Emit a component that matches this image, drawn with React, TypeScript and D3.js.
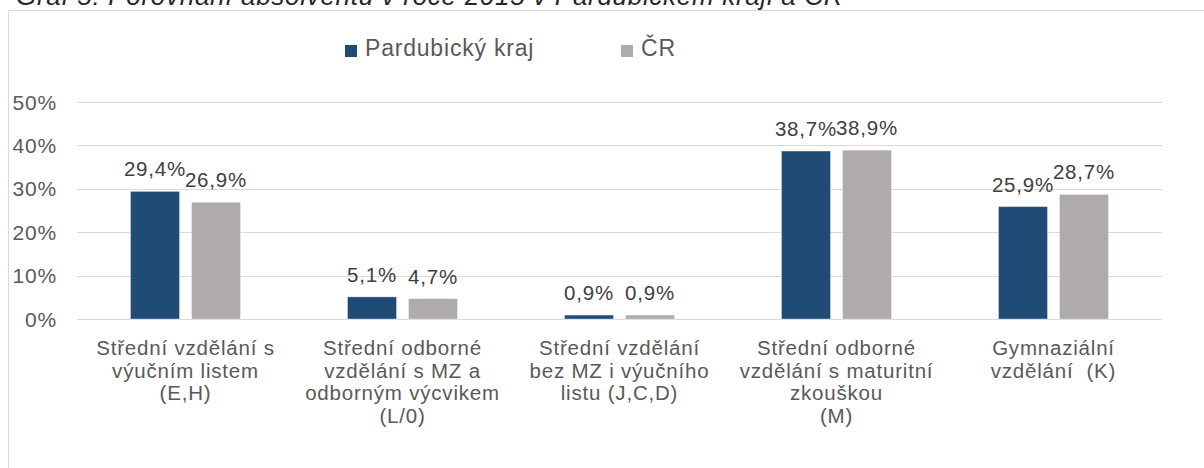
import React from "react";
import * as d3 from "d3";

const categories: string[][] = [
  ["Střední vzdělání s", "výučním listem", "(E,H)"],
  ["Střední odborné", "vzdělání s MZ a", "odborným výcvikem", "(L/0)"],
  ["Střední vzdělání", "bez MZ i výučního", "listu (J,C,D)"],
  ["Střední odborné", "vzdělání s maturitní", "zkouškou", "(M)"],
  ["Gymnaziální", "vzdělání  (K)"],
];
const seriesNames = ["Pardubický kraj", "ČR"];
const pardubice = [29.4, 5.1, 0.9, 38.7, 25.9];
const cr = [26.9, 4.7, 0.9, 38.9, 28.7];
const yTicks = [0, 10, 20, 30, 40, 50];
const title = "Graf 5: Porovnání  absolventů v roce 2015 v Pardubickém kraji a ČR";

const colors = ["#1F4B75", "#AEABAA"];
const FONT = "'Liberation Sans', Arial, sans-serif";
const W = 1204;
const H = 468;

export default function App() {
  const left = 77;
  const right = 1162;
  const x0 = d3
    .scaleBand<number>()
    .domain(categories.map((_, i) => i))
    .range([left, right])
    .padding(0);
  const y = d3.scaleLinear().domain([0, 50]).range([319, 102]);
  const x1 = d3
    .scaleBand<number>()
    .domain([0, 1])
    .range([0, 110])
    .paddingInner(0.197)
    .paddingOuter(0);
  const values = [pardubice, cr];
  const fmt = (v: number) => v.toFixed(1).replace(".", ",") + "%";

  return (
    <div style={{ position: "absolute", left: 0, top: 0 }}>
      <svg width={W} height={H} style={{ display: "block", fontFamily: FONT }}>
        <rect x={0} y={0} width={W} height={H} fill="#fff" />
        <text x={16} y={5} fontSize={26} fontStyle="italic" fill="#262626" letterSpacing={0.7}>
          {title}
        </text>
        {/* frame */}
        <path d={`M8.5,${H} V10.5 H${W}`} fill="none" stroke="#D9D9D9" strokeWidth={1} />
        {/* legend */}
        {seriesNames.map((s, i) => {
          const lx = i === 0 ? 345 : 621;
          return (
            <g key={s}>
              <rect x={lx} y={45} width={12} height={12} fill={colors[i]} />
              <text x={lx + 20} y={56} fontSize={23} fill="#595959" letterSpacing={0.8}>
                {s}
              </text>
            </g>
          );
        })}
        {/* grid */}
        {yTicks.map((t) => (
          <g key={t}>
            <line x1={left} x2={right} y1={Math.round(y(t)) + 0.5} y2={Math.round(y(t)) + 0.5} stroke="#D9D9D9" strokeWidth={1} />
            <text x={57} y={y(t) + 7.5} fontSize={21} textAnchor="end" fill="#595959" letterSpacing={0.8}>
              {t}%
            </text>
          </g>
        ))}
        {/* bars */}
        {categories.map((_, ci) => {
          const cx = (x0(ci) as number) + x0.bandwidth() / 2;
          return (
            <g key={ci}>
              {values.map((vals, si) => {
                const bx = cx - 55 + (x1(si) as number);
                const by = y(vals[ci]);
                return (
                  <g key={si}>
                    <rect
                      x={bx}
                      y={by}
                      width={x1.bandwidth()}
                      height={y(0) - by}
                      fill={colors[si]}
                      stroke="#ffffff"
                      strokeOpacity={0.35}
                      strokeWidth={1}
                    />
                    <text
                      x={bx + x1.bandwidth() / 2}
                      y={by - 15}
                      fontSize={20.5}
                      textAnchor="middle"
                      fill="#404040"
                      letterSpacing={0.8}
                    >
                      {fmt(vals[ci])}
                    </text>
                  </g>
                );
              })}
            </g>
          );
        })}
        {/* category labels */}
        {categories.map((lines, ci) => {
          const cx = (x0(ci) as number) + x0.bandwidth() / 2;
          return (
            <text key={ci} fontSize={20.5} textAnchor="middle" fill="#595959" letterSpacing={0.8}>
              {lines.map((ln, li) => (
                <tspan key={li} x={cx} y={355 + li * 22.7} style={{ whiteSpace: "pre" }}>
                  {ln}
                </tspan>
              ))}
            </text>
          );
        })}
      </svg>
    </div>
  );
}
